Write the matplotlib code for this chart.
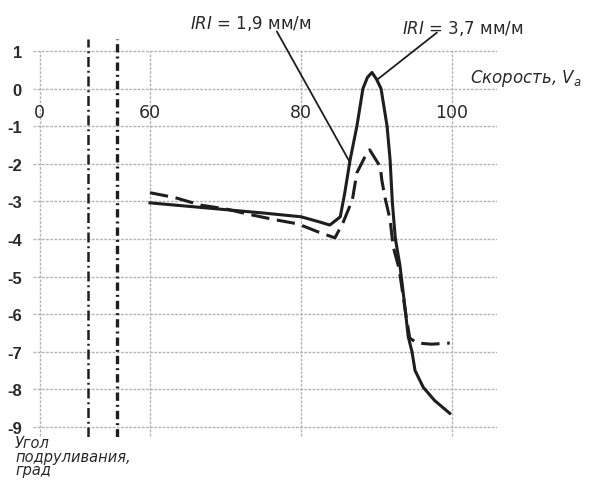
import matplotlib
matplotlib.use("Agg")
import matplotlib.pyplot as plt
import numpy as np

# steering angle (deg) vs speed (km/h)
speed_37 = [60, 65, 70, 75, 80, 82.5, 83.8, 84.2, 85.2, 85.8, 86.5, 87.4, 88.2, 88.8,
            89.4, 90.0, 90.6, 91.4, 91.8, 92.1, 92.5, 93.1, 93.7, 94.2, 94.7, 95.1,
            96.2, 97.7, 99.7]
angle_37 = [-3.04, -3.13, -3.22, -3.31, -3.41, -3.55, -3.63, -3.57, -3.41, -2.77, -1.9,
            -1.0, 0.0, 0.3, 0.43, 0.25, 0.0, -1.0, -1.9, -3.04, -4.0, -4.7, -5.7, -6.6,
            -7.0, -7.5, -7.95, -8.3, -8.64]

speed_19 = [60, 63.3, 66.7, 70, 73.2, 76.6, 79.6, 82.6, 84.5, 85.6, 86.8, 87.4, 88.5,
            89.1, 90.5, 90.7, 91.1, 91.8, 92.2, 93.0, 93.8, 94.4, 95.4, 97.3, 99.7]
angle_19 = [-2.77, -2.9, -3.1, -3.2, -3.35, -3.49, -3.6, -3.84, -3.97, -3.55, -2.96,
            -2.24, -1.8, -1.63, -2.08, -2.43, -2.88, -3.49, -4.2, -4.8, -5.9, -6.64,
            -6.77, -6.8, -6.77]

x_ticks = [0, 60, 80, 100]
y_ticks = list(range(1, -10, -1))
label_19 = "$\\mathit{IRI}$ = 1,9 мм/м"
label_37 = "$\\mathit{IRI}$ = 3,7 мм/м"

plt.rcParams["font.family"] = ["DejaVu Sans"]
plt.rcParams["mathtext.fontset"] = "dejavusans"

# x axis is broken between 0 and 60, so 0 is squeezed in left of the break
ZERO_POS = 45.4
BREAKS = [51.8, 55.6]


def xpos(v):
    v = np.asarray(v, dtype=float)
    return np.where(v >= 60, v, ZERO_POS + v * (60 - ZERO_POS) / 60)


YMIN, YMAX = -9.27, 1.32
ink = "#1e1e1e"
txt = "#2a2a2a"
grid_c = "#b4b4b4"

fig = plt.figure(figsize=(6.09, 4.85), dpi=100)
ax = fig.add_axes([0.0542, 0.0969, 0.7619, 0.8206])
ax.set_xlim(44.5, 105.96)
ax.set_ylim(YMIN, YMAX)
for s in ax.spines.values():
    s.set_visible(False)

# grid
ax.set_yticks(y_ticks)
ax.set_yticklabels([str(t) for t in y_ticks], fontsize=12, fontweight="bold",
                   family="Liberation Sans", color=txt)
ax.tick_params(axis="y", length=0, pad=8)
ax.set_xticks([])
ax.grid(axis="y", color=grid_c, lw=1.0, ls=(0, (2, 1)))
ax.vlines(xpos(x_ticks), YMIN + 0.02, y_ticks[0], color=grid_c, lw=1.0, ls=(0, (2, 1)))

# axis break marks
ax.axvline(BREAKS[0], color=ink, lw=1.8, ls=(0, (4, 1.5, 0.8, 1.5)))
ax.axvline(BREAKS[1], color=ink, lw=2.4, ls=(0, (2.5, 1.2, 0.6, 1.2)))

for t, p in zip(x_ticks, xpos(x_ticks)):
    ax.text(p, -0.62, str(t), ha="center", va="center", fontsize=12.5, color=txt)

ax.plot(xpos(speed_37), angle_37, color=ink, lw=2.2)
ax.plot(xpos(speed_19), angle_19, color=ink, lw=2.2, ls=(0, (6, 2.5)))

# labels with leader lines to the curves
ax.text(65.3, 1.76, label_19, fontsize=12, va="center", ha="left", color=txt, clip_on=False)
ax.text(93.4, 1.63, label_37, fontsize=12, va="center", ha="left", color=txt, clip_on=False)
ax.annotate("", xy=(86.5, -1.97), xytext=(76.8, 1.52), annotation_clip=False,
            arrowprops=dict(arrowstyle="-", color=ink, lw=1.3, shrinkA=0, shrinkB=0))
ax.annotate("", xy=(90.1, 0.24), xytext=(98.0, 1.49), annotation_clip=False,
            arrowprops=dict(arrowstyle="-", color=ink, lw=1.3, shrinkA=0, shrinkB=0))

ax.text(102.4, 0.3, "Скорость, $\\mathit{V}_{\\mathit{a}}$", fontsize=12, style="italic",
        color=txt, ha="left", va="center", clip_on=False)

fig.text(15 / 609, 1 - 436 / 485, "Угол\nподруливания,\nград", fontsize=10.5, style="italic",
         color=txt, ha="left", va="top", linespacing=0.88)

fig.savefig("out.png", dpi=100)
